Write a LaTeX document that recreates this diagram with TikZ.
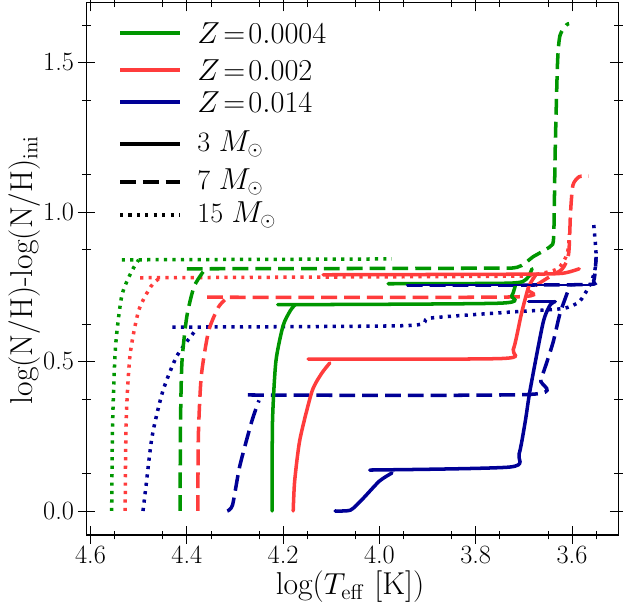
\documentclass[tikz,border=0pt]{standalone}
\usepackage{amsmath}
\definecolor{zgreen}{RGB}{0,150,0}
\definecolor{zred}{RGB}{255,60,60}
\definecolor{zblue}{RGB}{0,0,150}
\tikzset{
	track/.style={line width=2pt, line cap=round, smooth, tension=0.4},
	msolid/.style={track},
	mdashed/.style={track, line cap=butt, dash pattern=on 9pt off 4pt},
	mdotted/.style={track, line cap=butt, dash pattern=on 1.8pt off 3pt},
	ticklab/.style={font=\fontsize{15}{17}\selectfont, inner sep=2pt},
	leglab/.style={font=\fontsize{16}{18}\selectfont, anchor=west, inner sep=0pt},
}
\begin{document}
\begin{tikzpicture}
	\useasboundingbox (0,0) rectangle (12.46,12.16);
	\begin{scope}[shift={(46.108,1.94)}, x=-9.63cm, y=5.98cm]
		% frame and ticks
		\draw[line width=0.7pt] (4.608,-0.08) rectangle (3.503,1.70);
		\foreach \t in {3.55,3.65,3.75,3.85,3.95,4.05,4.15,4.25,4.35,4.45,4.55}
		{
			\draw (\t,-0.08) ++(0pt,-2.5pt) -- ++(0pt,5pt);
			\draw (\t,1.70) ++(0pt,-2.5pt) -- ++(0pt,5pt);
		}
		\foreach \t/\i in {4.6/1,4.4/2,4.2/3,4.0/4,3.8/5,3.6/6}
		{
			\draw (\t,-0.08) ++(0pt,-5pt) -- ++(0pt,10pt);
			\draw (\t,1.70) ++(0pt,-5pt) -- ++(0pt,10pt);
			\node[ticklab, anchor=north] (xl\i) at ([yshift=-4pt]\t,-0.08) {\t};
		}
		\foreach \n in {0.125,0.375,0.625,0.875,1.125,1.375,1.625}
		{
			\draw (4.608,\n) ++(-2.5pt,0pt) -- ++(5pt,0pt);
			\draw (3.503,\n) ++(-2.5pt,0pt) -- ++(5pt,0pt);
		}
		\foreach \n/\i in {0.0/1,0.5/2,1.0/3,1.5/4}
		{
			\draw (4.608,\n) ++(-5pt,0pt) -- ++(10pt,0pt);
			\draw (3.503,\n) ++(-5pt,0pt) -- ++(10pt,0pt);
			\node[ticklab, anchor=east] (yl\i) at ([xshift=-5pt]4.608,\n) {\n};
		}
		
		% 15 Msun
		\draw[mdotted, zgreen] plot coordinates {(4.556,0) (4.554,0.3) (4.548,0.55) (4.535,0.72) (4.515,0.80) (4.50,0.84)};
		\draw[mdotted, zgreen] (4.535,0.84) -- (3.974,0.843);
		\draw[mdotted, zred] plot coordinates {(4.528,0) (4.526,0.3) (4.518,0.52) (4.50,0.67) (4.475,0.75) (4.456,0.78)};
		\draw[mdotted, zred] plot coordinates {(4.497,0.78) (3.75,0.785) (3.68,0.79) (3.63,0.81) (3.61,0.86) (3.605,0.93)};
		\draw[mdotted, zblue] plot coordinates {(4.491,0) (4.485,0.08) (4.472,0.25) (4.45,0.40) (4.42,0.52) (4.379,0.61)};
		\draw[mdotted, zblue] plot coordinates {(4.43,0.615) (3.943,0.62) (3.895,0.645) (3.73,0.665) (3.62,0.677) (3.585,0.70) (3.565,0.75) (3.553,0.80) (3.55,0.86) (3.555,0.96)};
		
		% 7 Msun
		\draw[mdashed, zgreen] plot coordinates {(4.414,0) (4.413,0.3) (4.41,0.5) (4.40,0.65) (4.385,0.75) (4.366,0.80)};
		\draw[mdashed, zgreen] plot coordinates {(4.40,0.81) (3.80,0.812) (3.714,0.815) (3.681,0.85) (3.645,0.885) (3.638,0.92) (3.635,1.2) (3.630,1.5) (3.625,1.59) (3.612,1.625) (3.606,1.63)};
		\draw[mdashed, zred] plot coordinates {(4.377,0) (4.376,0.25) (4.37,0.45) (4.355,0.6) (4.335,0.68) (4.321,0.706)};
		\draw[mdashed, zred] plot coordinates {(4.358,0.715) (3.72,0.716) (3.69,0.74) (3.65,0.78) (3.62,0.81) (3.607,0.86) (3.603,1.0) (3.598,1.09) (3.585,1.118) (3.565,1.12)};
		\draw[mdashed, zblue] plot coordinates {(4.316,0) (4.305,0.02) (4.29,0.15) (4.265,0.30) (4.25,0.37)};
		\draw[mdashed, zblue] plot coordinates {(4.273,0.388) (3.687,0.39) (3.665,0.44) (3.64,0.56) (3.625,0.66) (3.604,0.755)};
		\draw[mdashed, zblue] plot coordinates {(3.943,0.755) (3.58,0.757) (3.555,0.77) (3.55,0.85)};
		
		% 3 Msun
		\draw[msolid, zgreen] plot coordinates {(4.223,0) (4.222,0.3) (4.215,0.5) (4.20,0.62) (4.185,0.67) (4.175,0.69)};
		\draw[msolid, zgreen] plot coordinates {(4.211,0.69) (3.75,0.695) (3.725,0.72) (3.717,0.76)};
		\draw[msolid, zgreen] plot coordinates {(3.982,0.76) (3.73,0.762) (3.695,0.775) (3.683,0.81)};
		\draw[msolid, zred] plot coordinates {(4.179,0) (4.176,0.1) (4.165,0.24) (4.14,0.40) (4.12,0.46) (4.103,0.495)};
		\draw[msolid, zred] plot coordinates {(4.148,0.508) (3.745,0.51) (3.722,0.54) (3.705,0.66) (3.69,0.75) (3.675,0.79)};
		\draw[msolid, zred] plot coordinates {(4.117,0.79) (3.70,0.792) (3.62,0.795) (3.585,0.81)};
		\draw[msolid, zblue] plot coordinates {(4.092,0) (4.06,0.003) (4.035,0.04) (4.0,0.10) (3.974,0.127)};
		\draw[msolid, zblue] plot coordinates {(4.02,0.137) (3.729,0.147) (3.71,0.19) (3.697,0.30) (3.687,0.405) (3.66,0.63) (3.645,0.69) (3.635,0.70)};
		\draw[msolid, zblue] (3.69,0.70) -- (3.635,0.70);
		\draw[msolid, zblue, line width=1pt] (3.943,0.755) -- (3.56,0.755);
	\end{scope}
	
	% legend
	\foreach \y/\c/\s/\t/\i in {11.5/zgreen/msolid/{$Z\!=\!0.0004$}/1, 10.76/zred/msolid/{$Z\!=\!0.002$}/2, 10.12/zblue/msolid/{$Z\!=\!0.014$}/3, 9.28/black/msolid/{3 $M_\odot$}/4, 8.52/black/mdashed/{7 $M_\odot$}/5, 7.86/black/mdotted/{15 $M_\odot$}/6}
	{
		\draw[\s, \c, line cap=butt] (2.4,\y) -- (3.6,\y);
		\node[leglab] (leg\i) at (3.94,\y) {\t};
	}
	
	% axis labels
	\node[font=\fontsize{18}{20}\selectfont, rotate=90] (ylab) at (0.5,6.76) {log(N/H)-log(N/H)$_{\rm ini}$};
	\node[font=\fontsize{18}{20}\selectfont] (xlab) at (7.0,0.42) {log($T_{\rm eff}$ [K])};
\end{tikzpicture}
\end{document}
